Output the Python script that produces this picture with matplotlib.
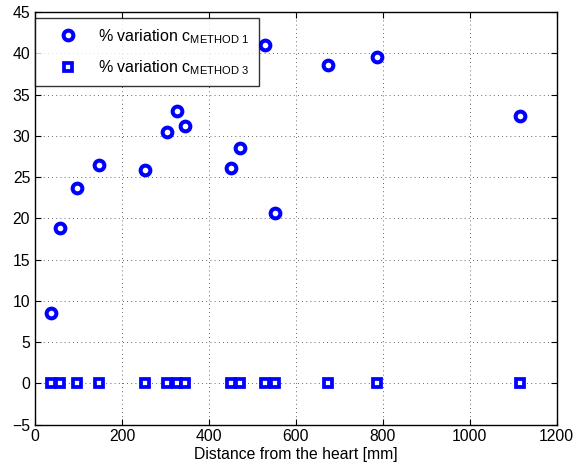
import matplotlib
matplotlib.use("Agg")
import matplotlib.pyplot as plt

plt.rcParams['font.family'] = ['Liberation Sans', 'DejaVu Sans']
plt.rcParams['mathtext.fontset'] = 'custom'
plt.rcParams['mathtext.rm'] = 'Liberation Sans'
plt.rcParams['mathtext.default'] = 'regular'

distance = [37, 58, 96, 148, 252, 304, 326, 345, 451, 471, 530, 552, 674, 786, 1115]
var_method1 = [8.5, 18.8, 23.7, 26.5, 25.8, 30.5, 33.0, 31.2, 26.1, 28.5, 41.0, 20.7, 38.6, 39.6, 32.4]
var_method3 = [0, 0, 0, 0, 0, 0, 0, 0, 0, 0, 0, 0, 0, 0, 0]
xticks = [0, 200, 400, 600, 800, 1000, 1200]
yticks = [-5, 0, 5, 10, 15, 20, 25, 30, 35, 40, 45]
labels = ['% variation c$_{METHOD\\ 1}$', '% variation c$_{METHOD\\ 3}$']

fig = plt.figure(figsize=(5.74, 4.66), dpi=100)
ax = fig.add_axes([0.061, 0.089, 0.909, 0.885])

ax.plot(distance, var_method1, linestyle='none', marker='o', markersize=7.0,
        markeredgewidth=2.9, markeredgecolor='#0000ff', markerfacecolor='white', label=labels[0])
ax.plot(distance, var_method3, linestyle='none', marker='s', markersize=5.6,
        markeredgewidth=2.7, markeredgecolor='#0000ff', markerfacecolor='white', label=labels[1])

ax.set_xlim(0, 1200)
ax.set_ylim(-5, 45)
ax.set_xticks(xticks)
ax.set_yticks(yticks)
ax.set_yticklabels([('\u2212' + str(abs(t))) if t < 0 else str(t) for t in yticks])
ax.tick_params(direction='in', top=True, right=True, labelsize=11.3, length=4, width=0.8)
ax.grid(True, linestyle=(0, (1, 4)), color='#333333', linewidth=0.6)
for s in ax.spines.values():
    s.set_linewidth(1.0)
ax.set_xlabel('Distance from the heart [mm]', fontsize=11.3, labelpad=2)

leg = ax.legend(loc='upper left', bbox_to_anchor=(0.0, 0.985), fontsize=11.5,
                frameon=True, fancybox=False, edgecolor='black', borderaxespad=0,
                handlelength=3.0, handletextpad=0.4, borderpad=0.55, labelspacing=0.8)
leg.get_frame().set_linewidth(1.0)

fig.savefig('out.png', dpi=100)
